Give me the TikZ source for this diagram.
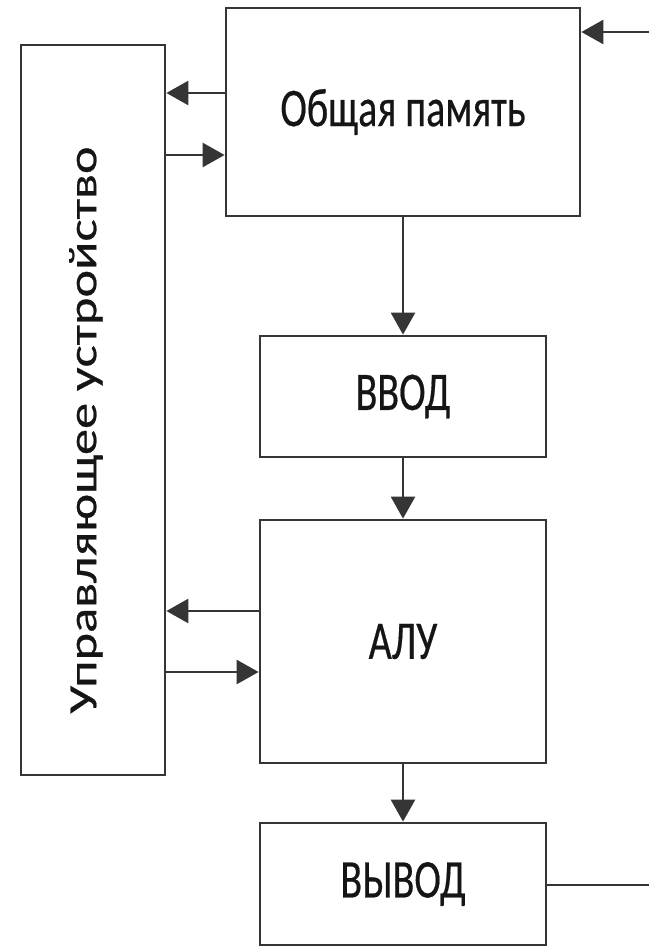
\documentclass[tikz,border=0pt]{standalone}
\usepackage{fontspec}
\setmainfont{Carlito}[FakeBold=0.5]
\usetikzlibrary{arrows.meta}
\definecolor{linec}{HTML}{353535}
\definecolor{textc}{HTML}{151515}
\begin{document}
\begin{tikzpicture}[x=1pt,y=-1pt,
  blk/.style={draw=linec,line width=2.8pt,inner sep=0pt,fill=white,text=textc,font=\fontsize{40}{40}\selectfont},
  arr/.style={draw=linec,line width=2.8pt,-{Triangle[length=22pt,width=24pt]}},
  ln/.style={draw=linec,line width=2.8pt}]
\useasboundingbox[fill=white] (0,0) rectangle (649,947);
\node[blk,minimum width=144pt,minimum height=730pt] (ctl) at (93,410) {};
\node[text=textc,font=\fontsize{40}{40}\selectfont,rotate=90,inner sep=0pt] (ctltext) at (86,430) {\scalebox{1.31}[1]{Управляющее устройство}};
\node[blk,minimum width=354pt,minimum height=208pt] (mem) at (403,112) {\scalebox{1}[1.36]{Общая память}};
\node[blk,minimum width=286pt,minimum height=121pt] (vvod) at (403,396.5) {\scalebox{1}[1.36]{ВВОД}};
\node[blk,minimum width=286pt,minimum height=243pt] (alu) at (403,641.5) {\scalebox{1}[1.36]{АЛУ}};
\node[blk,minimum width=286pt,minimum height=122pt] (vyvod) at (403,884) {\scalebox{1}[1.36]{ВЫВОД}};
\coordinate (inR) at (649,32);
\coordinate (outR) at (649,885);
\draw[arr] (inR) -- (mem.east |- inR);
\draw[arr] (mem.west |- 0,93) -- (ctl.east |- 0,93);
\draw[arr] (ctl.east |- 0,155) -- (mem.west |- 0,155);
\draw[arr] (mem.south) -- (vvod.north);
\draw[arr] (vvod.south) -- (alu.north);
\draw[arr] (alu.west |- 0,611) -- (ctl.east |- 0,611);
\draw[arr] (ctl.east |- 0,672) -- (alu.west |- 0,672);
\draw[arr] (alu.south) -- (vyvod.north);
\draw[ln] (vyvod.east |- outR) -- (outR);
\end{tikzpicture}
\end{document}
